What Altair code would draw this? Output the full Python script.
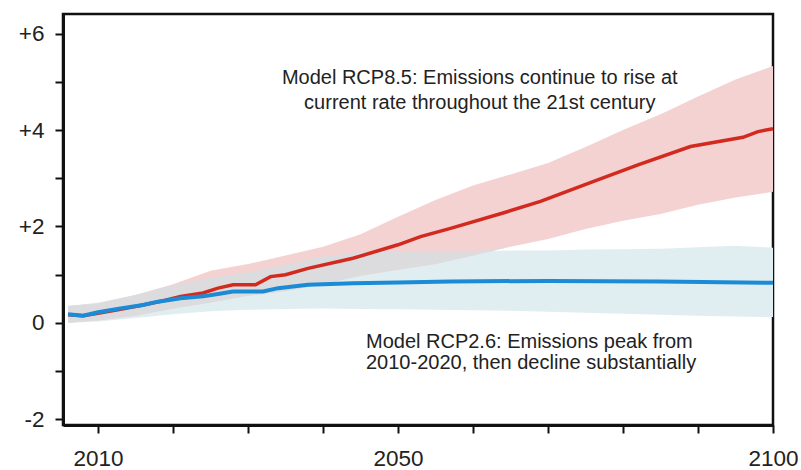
import altair as alt
import numpy as np
import pandas as pd

# ---- data ----
band_years = [2006, 2010, 2015, 2020, 2025, 2030, 2035, 2040, 2045, 2050,
              2055, 2060, 2065, 2070, 2075, 2080, 2085, 2090, 2095, 2100]
rcp85_low  = [0.00, 0.05, 0.15, 0.30, 0.42, 0.56, 0.66, 0.80, 0.98, 1.10,
              1.22, 1.40, 1.58, 1.74, 1.95, 2.12, 2.26, 2.45, 2.60, 2.72]
rcp85_high = [0.35, 0.40, 0.58, 0.80, 1.08, 1.22, 1.40, 1.58, 1.84, 2.20,
              2.55, 2.85, 3.08, 3.32, 3.65, 4.00, 4.33, 4.70, 5.05, 5.33]
rcp26_low  = [0.00, 0.03, 0.10, 0.18, 0.24, 0.27, 0.29, 0.30, 0.29, 0.28,
              0.27, 0.26, 0.25, 0.23, 0.21, 0.19, 0.17, 0.15, 0.13, 0.12]
rcp26_high = [0.35, 0.42, 0.58, 0.78, 0.93, 1.05, 1.20, 1.38, 1.47, 1.48,
              1.48, 1.48, 1.50, 1.50, 1.52, 1.53, 1.54, 1.57, 1.60, 1.56]

red_years = [2006, 2008, 2010, 2013, 2016, 2019, 2021, 2024, 2026, 2028, 2031,
             2033, 2035, 2038, 2044, 2050, 2053, 2057, 2064, 2069, 2076, 2082,
             2089, 2096, 2098, 2100]
red_mean  = [0.17, 0.15, 0.20, 0.28, 0.37, 0.47, 0.55, 0.62, 0.72, 0.79, 0.79,
             0.96, 1.00, 1.13, 1.34, 1.62, 1.79, 1.96, 2.28, 2.52, 2.93, 3.28,
             3.66, 3.85, 3.97, 4.03]

blue_years = [2006, 2008, 2010, 2013, 2016, 2018, 2021, 2024, 2026, 2028, 2032,
              2034, 2038, 2044, 2050, 2057, 2070, 2085, 2100]
blue_mean  = [0.18, 0.15, 0.22, 0.30, 0.37, 0.44, 0.51, 0.55, 0.60, 0.65, 0.65,
              0.72, 0.79, 0.82, 0.84, 0.86, 0.87, 0.86, 0.83]

y_ticks = [-2, -1.5, -1, -0.5, 0, 0.5, 1, 1.5, 2, 2.5, 3, 3.5, 4, 4.5, 5, 5.5, 6]
x_ticks = [2010, 2020, 2030, 2040, 2050, 2060, 2070, 2080, 2090, 2100]
x_labelled = [2010, 2050, 2100]

note85 = ["Model RCP8.5: Emissions continue to rise at",
          "current rate throughout the 21st century"]
note26 = ["Model RCP2.6: Emissions peak from",
          "2010-2020, then decline substantially"]

# ---- tables ----
bands = pd.DataFrame({"year": band_years, "r_lo": rcp85_low, "r_hi": rcp85_high,
                      "b_lo": rcp26_low, "b_hi": rcp26_high})
ov_lo = np.maximum(bands["r_lo"], bands["b_lo"])
ov_hi = np.minimum(bands["r_hi"], bands["b_hi"])
bands["o_lo"] = ov_lo
bands["o_hi"] = np.maximum(ov_hi, ov_lo)

red_df = pd.DataFrame({"year": red_years, "v": red_mean})
blue_df = pd.DataFrame({"year": blue_years, "v": blue_mean})

FONT = "Liberation Sans"
xscale = alt.Scale(domain=[2005.33, 2100], nice=False, zero=False)
yscale = alt.Scale(domain=[-2.12, 6.41], nice=False, zero=False)

lab_test = " || ".join(f"datum.value == {v}" for v in x_labelled)
xaxis = alt.Axis(values=x_ticks, labelExpr=f"({lab_test}) ? '' + datum.value : ''",
                 grid=False, domainColor="#111", domainWidth=3, tickColor="#111",
                 tickWidth=2, tickSize=8, labelFontSize=22.5, labelFont=FONT,
                 labelColor="#222", labelPadding=14, labelOverlap=False,
                 labelFlush=False, title=None)
yaxis = alt.Axis(values=y_ticks,
                 labelExpr="datum.value % 2 == 0 ? (datum.value > 0 ? '+' + datum.value : '' + datum.value) : ''",
                 grid=False, domainColor="#111", domainWidth=3, tickColor="#111",
                 tickWidth=2, tickSize=8, labelFontSize=22.5, labelFont=FONT,
                 labelColor="#222", labelPadding=11, labelOverlap=False,
                 labelFlush=False, title=None)

X = alt.X("year:Q", scale=xscale, axis=xaxis)

blue_band = alt.Chart(bands).mark_area(color="#e1eef1").encode(
    x=X, y=alt.Y("b_lo:Q", scale=yscale, axis=yaxis), y2="b_hi:Q")
red_band = alt.Chart(bands).mark_area(color="#f4d2d2").encode(
    x=X, y=alt.Y("r_lo:Q", scale=yscale, axis=yaxis), y2="r_hi:Q")
ov_band = alt.Chart(bands).mark_area(color="#dcdcdf").encode(
    x=X, y=alt.Y("o_lo:Q", scale=yscale, axis=yaxis), y2="o_hi:Q")
red_line = alt.Chart(red_df).mark_line(color="#d22a1f", strokeWidth=3.5).encode(
    x=X, y=alt.Y("v:Q", scale=yscale, axis=yaxis))
blue_line = alt.Chart(blue_df).mark_line(color="#1b8bd6", strokeWidth=4).encode(
    x=X, y=alt.Y("v:Q", scale=yscale, axis=yaxis))


def note(text, yr, val, align):
    return alt.Chart(pd.DataFrame({"t": [text]})).mark_text(
        font=FONT, fontSize=20, color="#222", align=align, baseline="middle"
    ).encode(x=alt.datum(yr, scale=xscale), y=alt.datum(val, scale=yscale), text="t:N")


texts = [
    note(note85[0], 2060.9, 5.08, "center"),
    note(note85[1], 2060.9, 4.56, "center"),
    note(note26[0], 2045.73, -0.39, "left"),
    note(note26[1], 2045.73, -0.83, "left"),
]

chart = alt.layer(blue_band, red_band, ov_band, red_line, blue_line, *texts).properties(
    width=710, height=411,
    autosize=alt.AutoSizeParams(type="none"),
    padding={"left": 63, "top": 14, "right": 28, "bottom": 45},
    background="white",
).configure_view(stroke="#111", strokeWidth=2.5)

chart.save("out.html", embed_options={"renderer": "svg", "actions": False})
